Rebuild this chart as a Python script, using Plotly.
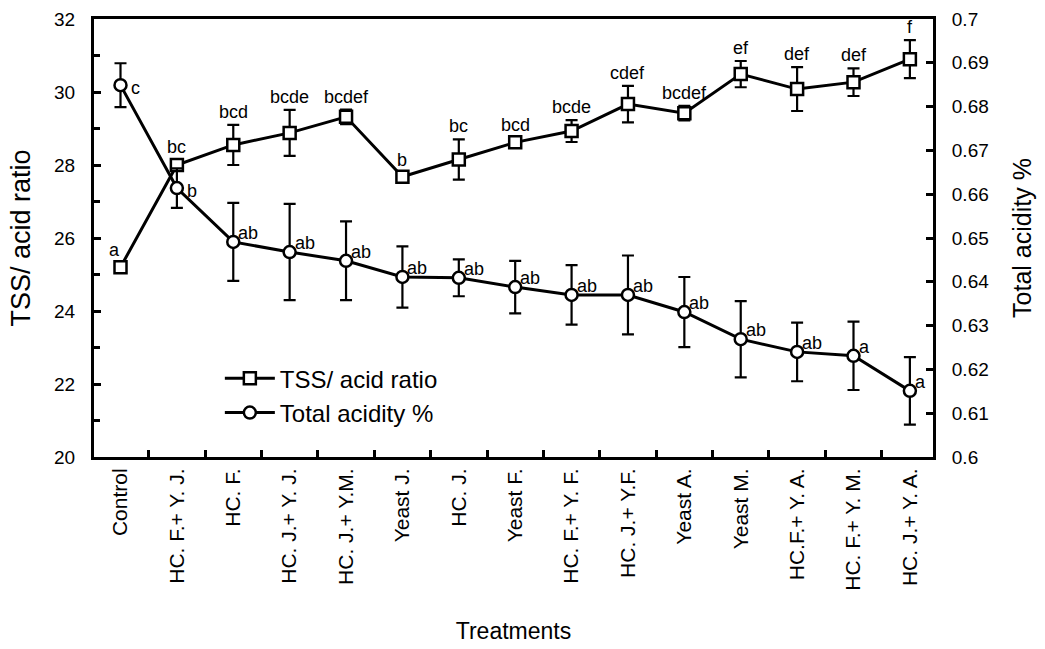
import plotly.graph_objects as go

treatments = ["Control", "HC. F.+ Y. J.", "HC. F.", "HC. J.+ Y. J.", "HC. J.+ Y.M.",
              "Yeast J.", "HC. J.", "Yeast F.", "HC. F.+ Y. F.", "HC. J.+ Y.F.",
              "Yeast A.", "Yeast M.", "HC.F.+ Y. A.", "HC. F.+ Y. M.", "HC. J.+ Y. A."]

tss_ratio = [25.2, 28.0, 28.55, 28.88, 29.32, 27.68, 28.15, 28.62, 28.93, 29.67,
             29.42, 30.49, 30.08, 30.27, 30.9]
tss_err = [0.05, 0.15, 0.55, 0.63, 0.2, 0.1, 0.55, 0.12, 0.3, 0.5,
           0.2, 0.36, 0.6, 0.38, 0.52]
tss_letters = ["a", "bc", "bcd", "bcde", "bcdef", "b", "bc", "bcd", "bcde", "cdef",
               "bcdef", "ef", "def", "def", "f"]

acidity = [0.6849, 0.6614, 0.6491, 0.6468, 0.6448, 0.6411, 0.6409, 0.6388, 0.637, 0.637,
           0.6331, 0.6269, 0.624, 0.6231, 0.6151]
acid_err = [0.005, 0.0045, 0.0089, 0.011, 0.009, 0.007, 0.0042, 0.006, 0.0068, 0.009,
            0.008, 0.0087, 0.0067, 0.0078, 0.0077]
acid_letters = ["c", "b", "ab", "ab", "ab", "ab", "ab", "ab", "ab", "ab",
                "ab", "ab", "ab", "a", "a"]

left_ticks = [20, 22, 24, 26, 28, 30, 32]
left_ticktext = ["20", "22", "24", "26", "28", "30", "32"]
right_ticks = [0.6, 0.61, 0.62, 0.63, 0.64, 0.65, 0.66, 0.67, 0.68, 0.69, 0.7]
right_ticktext = ["0.6", "0.61", "0.62", "0.63", "0.64", "0.65", "0.66", "0.67", "0.68", "0.69", "0.7"]

FONT = "Liberation Sans, Arial, sans-serif"
xs = list(range(len(treatments)))

fig = go.Figure()
fig.add_trace(go.Scatter(
    x=xs, y=tss_ratio, name="TSS/ acid ratio", mode="lines+markers",
    line=dict(color="black", width=3),
    marker=dict(symbol="square", size=12, color="white", line=dict(color="black", width=2.5)),
    error_y=dict(type="data", array=tss_err, color="black", thickness=2.2, width=6),
    yaxis="y"))
fig.add_trace(go.Scatter(
    x=xs, y=acidity, name="Total acidity %", mode="lines+markers",
    line=dict(color="black", width=3),
    marker=dict(symbol="circle", size=12, color="white", line=dict(color="black", width=2.5)),
    error_y=dict(type="data", array=acid_err, color="black", thickness=2.2, width=6),
    yaxis="y2"))

ann = []
for i, (v, e, t) in enumerate(zip(tss_ratio, tss_err, tss_letters)):
    ann.append(dict(x=i, y=v + e, xref="x", yref="y", text=t, showarrow=False,
                    xanchor="center", yanchor="bottom", yshift=1 if i else 3,
                    xshift=-6 if i == 0 else 0,
                    font=dict(family=FONT, size=18, color="black")))
for i, (v, t) in enumerate(zip(acidity, acid_letters)):
    ann.append(dict(x=i, y=v, xref="x", yref="y2", text=t, showarrow=False,
                    xanchor="left", yanchor="middle",
                    xshift=8 if i < 2 else 3, yshift=-3 if i < 2 else 9,
                    font=dict(family=FONT, size=18, color="black")))

fig.update_layout(
    width=1045, height=649,
    margin=dict(l=94, r=112, t=19, b=192),
    paper_bgcolor="white", plot_bgcolor="white",
    font=dict(family=FONT, color="black", size=18),
    showlegend=True,
    legend=dict(x=0.15, y=0.23, xanchor="left", yanchor="top",
                bgcolor="rgba(0,0,0,0)", font=dict(family=FONT, size=24, color="black"),
                itemwidth=50, tracegroupgap=0),
    annotations=ann,
    xaxis=dict(range=[-0.47, 14.41], tickvals=xs, ticktext=treatments, tickangle=-90,
               ticks="", showline=True, linecolor="black", linewidth=3, mirror=True,
               showgrid=False, zeroline=False, tickfont=dict(size=21), automargin=False,
               minor=dict(ticks="inside", tick0=0.5, dtick=1, ticklen=7,
                          tickwidth=2.5, tickcolor="black"),
               title=dict(text="Treatments", font=dict(size=23), standoff=34)),
    yaxis=dict(range=[20, 32], tickvals=left_ticks, ticktext=left_ticktext,
               ticks="inside", ticklen=7, tickwidth=2.5, tickcolor="black",
               showline=True, linecolor="black", linewidth=3, automargin=False,
               showgrid=False, zeroline=False, tickfont=dict(size=19),
               ticklabelstandoff=12,
               minor=dict(ticks="inside", dtick=1, ticklen=6, tickwidth=2.5, tickcolor="black"),
               title=dict(text="TSS/ acid ratio", font=dict(size=27), standoff=16)),
    yaxis2=dict(range=[0.6, 0.7], overlaying="y", side="right", tickvals=right_ticks,
                ticktext=right_ticktext, ticks="inside", ticklen=7, tickwidth=2.5,
                tickcolor="black", showline=True, linecolor="black", linewidth=3,
                showgrid=False, zeroline=False, tickfont=dict(size=19), automargin=False,
                ticklabelstandoff=12,
                title=dict(text="Total acidity %", font=dict(size=25), standoff=26)),
)

fig.write_html("out.html")
